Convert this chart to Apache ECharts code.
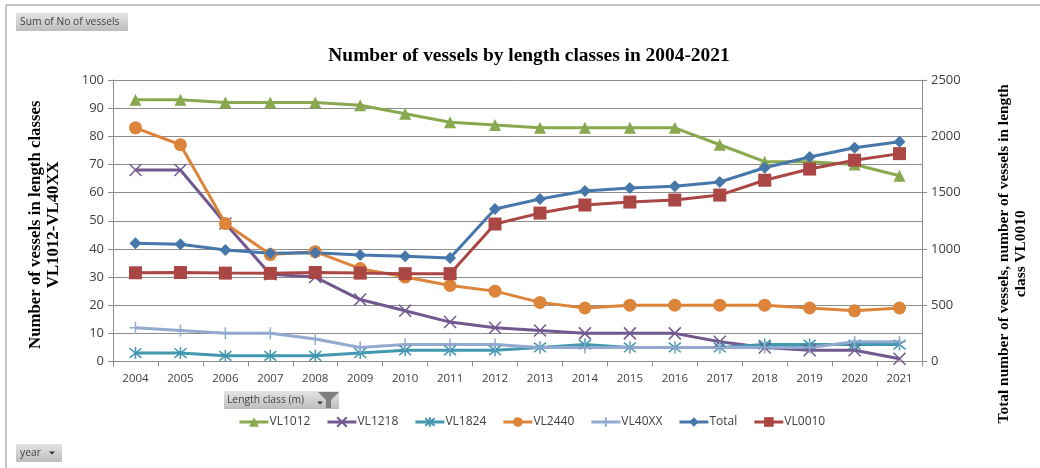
<!DOCTYPE html>
<html>
<head>
<meta charset="utf-8">
<style>html,body{margin:0;padding:0;background:#fff}#c{width:1040px;height:468px}</style>
<script src="https://cdn.jsdelivr.net/npm/echarts@6/dist/echarts.min.js"></script>
</head>
<body>
<div id="c"></div>
<script>
const years = ['2004','2005','2006','2007','2008','2009','2010','2011','2012','2013','2014','2015','2016','2017','2018','2019','2020','2021'];
const VL1012 = [93,93,92,92,92,91,88,85,84,83,83,83,83,77,71,71,70,66];
const VL1218 = [68,68,49,31,30,22,18,14,12,11,10,10,10,7,5,4,4,1];
const VL1824 = [3,3,2,2,2,3,4,4,4,5,6,5,5,5,6,6,6,6];
const VL2440 = [83,77,49,38,39,33,30,27,25,21,19,20,20,20,20,19,18,19];
const VL40XX = [12,11,10,10,8,5,6,6,6,5,5,5,5,5,5,5,7,7];
const Total = [1050,1042,990,962,965,945,935,920,1354,1443,1514,1540,1557,1594,1721,1816,1899,1952];
const VL0010 = [788,790,785,783,790,785,780,780,1221,1318,1390,1416,1434,1478,1610,1709,1788,1846];

const font = '"Open Sans","DejaVu Sans",sans-serif';
const serif = '"Liberation Serif",serif';
const txt = '#404040', axisCol = '#8c8c8c';

function line(name, data, color, symbol, size, yAxisIndex, extra) {
  return Object.assign({
    name, type: 'line', data, yAxisIndex, symbol, symbolSize: size,
    lineStyle: {color, width: 3}, itemStyle: {color, borderColor: color, borderWidth: 0},
    showSymbol: true, animation: false
  }, extra || {});
}
const hollow = c => ({itemStyle: {color: 'rgba(0,0,0,0)', borderColor: c, borderWidth: 1.5}});

function button(x, y, w, h, label, tx) {
  return [
    {type: 'rect', shape: {x, y, width: w, height: h},
     style: {fill: {type: 'linear', x: 0, y: 0, x2: 0, y2: 1, colorStops: [{offset: 0, color: '#e4e4e4'}, {offset: 1, color: '#bdbdbd'}]}}},
    {type: 'text', x: tx, y: y + h / 2, style: {text: label, font: '10.3px ' + font, fill: '#404040', verticalAlign: 'middle'}}
  ];
}
const arrow = (cx, cy) => ({type: 'polygon', shape: {points: [[cx - 3, cy - 1.5], [cx + 3, cy - 1.5], [cx, cy + 1.5]]}, style: {fill: '#333'}});

const chart = echarts.init(document.getElementById('c'), null, {renderer: 'canvas'});
chart.setOption({
  animation: false,
  backgroundColor: '#fff',
  title: {
    text: 'Number of vessels by length classes in 2004-2021',
    left: 524, top: 41, textAlign: 'center',
    textStyle: {fontFamily: serif, fontWeight: 'bold', fontSize: 19.4, color: '#000'}
  },
  grid: {left: 113, right: 118, top: 80, height: 281.5, containLabel: false},
  legend: {
    left: 238, top: 416, padding: 0, itemWidth: 29, itemHeight: 12, itemGap: 15.6,
    lineStyle: {width: 3},
    textStyle: {fontFamily: font, fontSize: 12, color: txt, padding: [0, 0, 0, -4]},
    data: ['VL1012','VL1218','VL1824','VL2440','VL40XX','Total','VL0010']
  },
  xAxis: {
    type: 'category', data: years, boundaryGap: true,
    axisLine: {lineStyle: {color: axisCol, width: 1}},
    axisTick: {show: true, alignWithLabel: false, length: 5, lineStyle: {color: axisCol}},
    axisLabel: {fontFamily: font, fontSize: 11.5, color: txt, margin: 11, interval: 0}
  },
  yAxis: [{
    type: 'value', min: 0, max: 100, interval: 10,
    name: 'Number of vessels in length classes\nVL1012-VL40XX',
    nameLocation: 'middle', nameGap: 50, nameRotate: 90,
    nameTextStyle: {fontFamily: serif, fontWeight: 'bold', fontSize: 16.8, color: '#000', lineHeight: 18, padding: [0, 8, 0, 0]},
    axisLine: {show: true, lineStyle: {color: axisCol}},
    axisTick: {show: true, length: 5, lineStyle: {color: axisCol}},
    axisLabel: {fontFamily: font, fontSize: 13, color: txt, margin: 9},
    splitLine: {show: true, lineStyle: {color: axisCol, width: 1}}
  }, {
    type: 'value', min: 0, max: 2500, interval: 500, position: 'right',
    name: 'Total number of vessels, number of vessels in length\nclass VL0010',
    nameLocation: 'middle', nameGap: 74, nameRotate: 90,
    nameTextStyle: {fontFamily: serif, fontWeight: 'bold', fontSize: 15.4, color: '#000', lineHeight: 17, padding: [0, 66, 0, 0]},
    axisLine: {show: true, lineStyle: {color: axisCol}},
    axisTick: {show: true, length: 5, lineStyle: {color: axisCol}},
    axisLabel: {fontFamily: font, fontSize: 13, color: txt, margin: 9, formatter: v => String(v)},
    splitLine: {show: false}
  }],
  series: [
    line('VL1012', VL1012, '#8aa84f', 'triangle', 12, 0),
    line('VL1218', VL1218, '#71588f', 'path://M1 1L9 9M9 1L1 9', 12, 0, hollow('#71588f')),
    line('VL1824', VL1824, '#4198af', 'path://M1 1L9 9M9 1L1 9M5 0L5 10', 12, 0, hollow('#4198af')),
    line('VL2440', VL2440, '#dc8439', 'circle', 13, 0),
    line('VL40XX', VL40XX, '#94a9d0', 'path://M0 5L10 5M5 0L5 10', 12, 0, hollow('#94a9d0')),
    line('Total', Total, '#4677aa', 'diamond', 12, 1),
    line('VL0010', VL0010, '#aa4643', 'rect', 13, 1)
  ],
  graphic: {elements: [
    {type: 'polyline', shape: {points: [[6, 468], [6, 5], [1040, 5]]}, style: {stroke: '#8a8a8a', lineWidth: 1, fill: null}},
    ...button(16, 13, 112, 18, 'Sum of No of vessels', 20),
    ...button(224, 391, 115, 18, 'Length class (m)', 227),
    arrow(320, 403),
    {type: 'polygon', shape: {points: [[318, 392], [339, 392], [331, 400], [331, 408], [326, 408], [326, 400]]}, style: {fill: '#7f7f7f'}},
    ...button(16, 444, 46, 18, 'year', 20),
    arrow(52, 453)
  ]}
});
</script>
</body>
</html>
